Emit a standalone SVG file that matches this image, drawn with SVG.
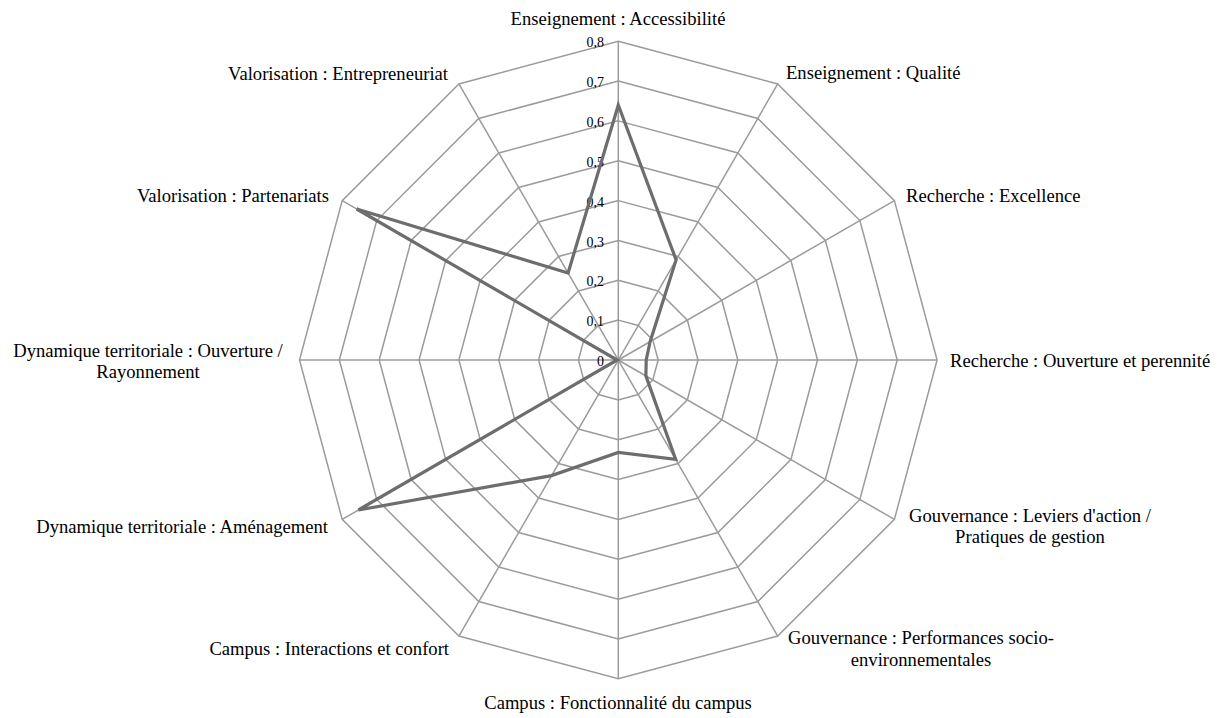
<svg xmlns="http://www.w3.org/2000/svg" width="1228" height="718" viewBox="0 0 1228 718">
<style>
.grid{fill:none;stroke:#9b9b9b;stroke-width:1.5}
.data{fill:none;stroke:#6d6d6d;stroke-width:3.2;stroke-linejoin:miter}
.lbl{font-family:"Liberation Serif","Times New Roman",serif;font-size:18.6px;fill:#000}
.tick{font-family:"Liberation Serif","Times New Roman",serif;font-size:14px;fill:#000;text-anchor:end}
</style>
<rect width="1228" height="718" fill="#fff"/>
<g id="grid" transform="translate(618.3,360)">
<g id="spokes" class="grid">
<line x1="0" y1="0" x2="0" y2="-318.8"/>
<line x1="0" y1="0" x2="159.4" y2="-276.09"/>
<line x1="0" y1="0" x2="276.09" y2="-159.4"/>
<line x1="0" y1="0" x2="318.8" y2="0"/>
<line x1="0" y1="0" x2="276.09" y2="159.4"/>
<line x1="0" y1="0" x2="159.4" y2="276.09"/>
<line x1="0" y1="0" x2="0" y2="318.8"/>
<line x1="0" y1="0" x2="-159.4" y2="276.09"/>
<line x1="0" y1="0" x2="-276.09" y2="159.4"/>
<line x1="0" y1="0" x2="-318.8" y2="0"/>
<line x1="0" y1="0" x2="-276.09" y2="-159.4"/>
<line x1="0" y1="0" x2="-159.4" y2="-276.09"/>
</g>
<g id="rings" class="grid">
<polygon points="0,-39.85 19.93,-34.51 34.51,-19.93 39.85,0 34.51,19.93 19.93,34.51 0,39.85 -19.93,34.51 -34.51,19.93 -39.85,0 -34.51,-19.93 -19.93,-34.51"/>
<polygon points="0,-79.7 39.85,-69.02 69.02,-39.85 79.7,0 69.02,39.85 39.85,69.02 0,79.7 -39.85,69.02 -69.02,39.85 -79.7,0 -69.02,-39.85 -39.85,-69.02"/>
<polygon points="0,-119.55 59.78,-103.53 103.53,-59.78 119.55,0 103.53,59.78 59.78,103.53 0,119.55 -59.78,103.53 -103.53,59.78 -119.55,0 -103.53,-59.78 -59.78,-103.53"/>
<polygon points="0,-159.4 79.7,-138.04 138.04,-79.7 159.4,0 138.04,79.7 79.7,138.04 0,159.4 -79.7,138.04 -138.04,79.7 -159.4,0 -138.04,-79.7 -79.7,-138.04"/>
<polygon points="0,-199.25 99.63,-172.55 172.55,-99.63 199.25,0 172.55,99.63 99.63,172.55 0,199.25 -99.63,172.55 -172.55,99.63 -199.25,0 -172.55,-99.63 -99.63,-172.55"/>
<polygon points="0,-239.1 119.55,-207.06 207.06,-119.55 239.1,0 207.06,119.55 119.55,207.06 0,239.1 -119.55,207.06 -207.06,119.55 -239.1,0 -207.06,-119.55 -119.55,-207.06"/>
<polygon points="0,-278.95 139.48,-241.57 241.57,-139.48 278.95,0 241.57,139.48 139.48,241.57 0,278.95 -139.48,241.57 -241.57,139.48 -278.95,0 -241.57,-139.48 -139.48,-241.57"/>
<polygon points="0,-318.8 159.4,-276.09 276.09,-159.4 318.8,0 276.09,159.4 159.4,276.09 0,318.8 -159.4,276.09 -276.09,159.4 -318.8,0 -276.09,-159.4 -159.4,-276.09"/>
</g>
</g>
<g id="ticks">
<text class="tick" x="604" y="366">0</text>
<text class="tick" x="604" y="326.2">0,1</text>
<text class="tick" x="604" y="286.3">0,2</text>
<text class="tick" x="604" y="246.5">0,3</text>
<text class="tick" x="604" y="206.6">0,4</text>
<text class="tick" x="604" y="166.8">0,5</text>
<text class="tick" x="604" y="126.9">0,6</text>
<text class="tick" x="604" y="87.1">0,7</text>
<text class="tick" x="604" y="47.2">0,8</text>
</g>
<g id="series" transform="translate(618.3,360)">
<polygon class="data" points="0,-255 57.8,-100.1 31.8,-18.3 27.9,0 27.6,15.9 57.4,99.4 0,92.5 -66.8,115.6 -259.9,150 -1.2,0 -261.6,-151 -50.2,-87"/>
</g>
<g id="labels" class="lbl">
<g id="n0"><text x="618" y="25" text-anchor="middle">Enseignement : Accessibilité</text></g>
<g id="n1"><text x="786" y="79">Enseignement : Qualité</text></g>
<g id="n2"><text x="906" y="202">Recherche : Excellence</text></g>
<g id="n3"><text x="950" y="367">Recherche : Ouverture et perennité</text></g>
<g id="n4"><text x="1030" y="522" text-anchor="middle">Gouvernance : Leviers d'action /</text><text x="1030" y="543" text-anchor="middle">Pratiques de gestion</text></g>
<g id="n5"><text x="921" y="644" text-anchor="middle">Gouvernance : Performances socio-</text><text x="921" y="666" text-anchor="middle">environnementales</text></g>
<g id="n6"><text x="618" y="709" text-anchor="middle">Campus : Fonctionnalité du campus</text></g>
<g id="n7"><text x="449" y="655" text-anchor="end">Campus : Interactions et confort</text></g>
<g id="n8"><text x="328" y="533" text-anchor="end">Dynamique territoriale : Aménagement</text></g>
<g id="n9"><text x="148" y="357" text-anchor="middle">Dynamique territoriale : Ouverture /</text><text x="148" y="378" text-anchor="middle">Rayonnement</text></g>
<g id="n10"><text x="329" y="202" text-anchor="end">Valorisation : Partenariats</text></g>
<g id="n11"><text x="448" y="80" text-anchor="end">Valorisation : Entrepreneuriat</text></g>
</g>
</svg>
